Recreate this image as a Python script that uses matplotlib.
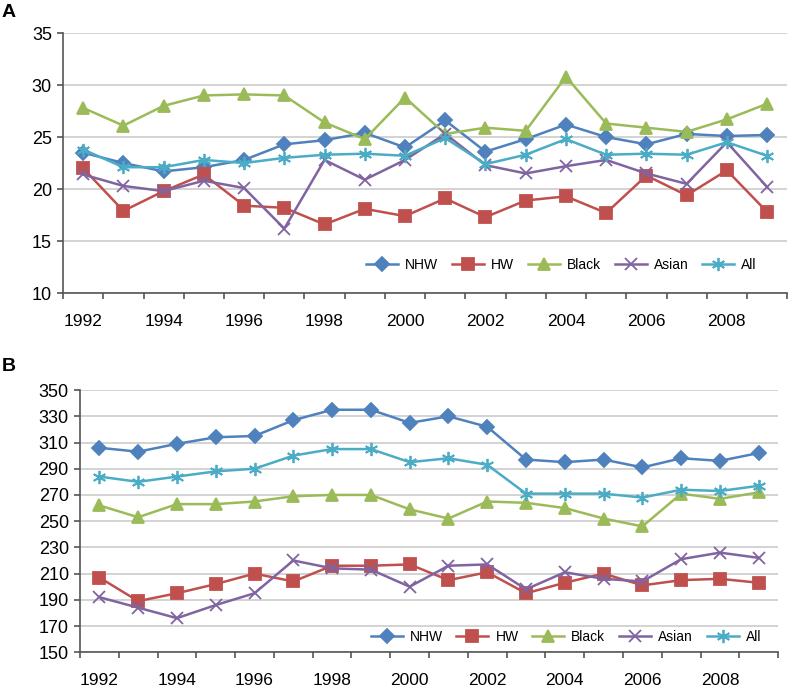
import matplotlib
matplotlib.use('Agg')
import matplotlib.pyplot as plt
import numpy as np

plt.rcParams['font.family'] = ['Liberation Sans', 'DejaVu Sans']

years = list(range(1992, 2010))
series_names = ['NHW', 'HW', 'Black', 'Asian', 'All']

# panel A
a_nhw = [23.5, 22.5, 21.7, 22.1, 22.8, 24.3, 24.7, 25.4, 24.0, 26.6, 23.6, 24.8, 26.2, 25.0, 24.3, 25.3, 25.1, 25.2]
a_hw = [22.0, 17.9, 19.8, 21.4, 18.4, 18.2, 16.6, 18.1, 17.4, 19.1, 17.3, 18.9, 19.3, 17.7, 21.3, 19.4, 21.8, 17.8]
a_black = [27.8, 26.1, 28.0, 29.0, 29.1, 29.0, 26.4, 24.8, 28.8, 25.3, 25.9, 25.6, 30.8, 26.3, 25.9, 25.5, 26.7, 28.2]
a_asian = [21.4, 20.3, 19.8, 20.8, 20.1, 16.2, 22.8, 20.9, 22.8, 25.3, 22.3, 21.5, 22.2, 22.8, 21.5, 20.5, 24.5, 20.2]
a_all = [23.8, 22.1, 22.1, 22.8, 22.5, 23.0, 23.3, 23.4, 23.2, 24.9, 22.4, 23.3, 24.8, 23.3, 23.4, 23.3, 24.5, 23.2]

# panel B
b_nhw = [306, 303, 309, 314, 315, 327, 335, 335, 325, 330, 322, 297, 295, 297, 291, 298, 296, 302]
b_hw = [207, 189, 195, 202, 210, 204, 216, 216, 217, 205, 211, 195, 203, 210, 201, 205, 206, 203]
b_black = [262, 253, 263, 263, 265, 269, 270, 270, 259, 252, 265, 264, 260, 252, 246, 271, 267, 272]
b_asian = [192, 184, 176, 186, 195, 220, 214, 213, 200, 216, 217, 198, 211, 206, 204, 221, 226, 222]
b_all = [284, 280, 284, 288, 290, 300, 305, 305, 295, 298, 293, 271, 271, 271, 268, 274, 273, 277]

colors = ['#4F81BD', '#C0504D', '#9BBB59', '#8064A2', '#4BACC6']
markers = ['D', 's', '^', 'x', (6, 2, 0)]
msizes = [7, 9, 9, 8.5, 9.5]


def draw_panel(ax, data, ymin, ymax, ystep, legend_xy):
    x = np.arange(len(years))
    for vals, name, c, m, ms in zip(data, series_names, colors, markers, msizes):
        ax.plot(x, vals, color=c, lw=1.8, marker=m, ms=ms, mfc=c, mec=c,
                mew=1.3, label=name, zorder=3)
    ax.set_xlim(-0.5, len(years) - 0.5)
    ax.set_ylim(ymin, ymax)
    ax.set_yticks(np.arange(ymin, ymax + 1, ystep))
    ax.yaxis.grid(True, color='#C8C8C8', lw=1.1)
    ax.set_axisbelow(True)
    ax.set_xticks(x[::2])
    ax.set_xticklabels([str(y) for y in years[::2]])
    ax.set_xticks(np.arange(-0.5, len(years), 1), minor=True)
    ax.tick_params(axis='x', which='major', length=0, pad=15, labelsize=12.5)
    ax.tick_params(axis='x', which='minor', length=4, width=1.2, color='#555555')
    ax.tick_params(axis='y', length=4, width=1.2, color='#555555', labelsize=13, pad=4)
    for s in ['top', 'right']:
        ax.spines[s].set_visible(False)
    for s in ['left', 'bottom']:
        ax.spines[s].set_color('#555555')
        ax.spines[s].set_linewidth(1.2)
    ax.legend(loc='center', bbox_to_anchor=legend_xy, ncol=5, frameon=False,
              fontsize=10, handlelength=2.3, columnspacing=1.0, handletextpad=0.5)


fig = plt.figure(figsize=(7.88, 6.88), dpi=100)
ax1 = fig.add_axes([0.080, 0.574, 0.919, 0.378])
ax2 = fig.add_axes([0.1015, 0.052, 0.886, 0.381])

draw_panel(ax1, [a_nhw, a_hw, a_black, a_asian, a_all], 10, 35, 5, (0.688, 0.108))
draw_panel(ax2, [b_nhw, b_hw, b_black, b_asian, b_all], 150, 350, 20, (0.696, 0.057))

fig.text(0.002, 0.982, 'A', fontsize=14, fontweight='bold', va='center')
fig.text(0.002, 0.467, 'B', fontsize=14, fontweight='bold', va='center')

fig.savefig('out.png', dpi=100)
